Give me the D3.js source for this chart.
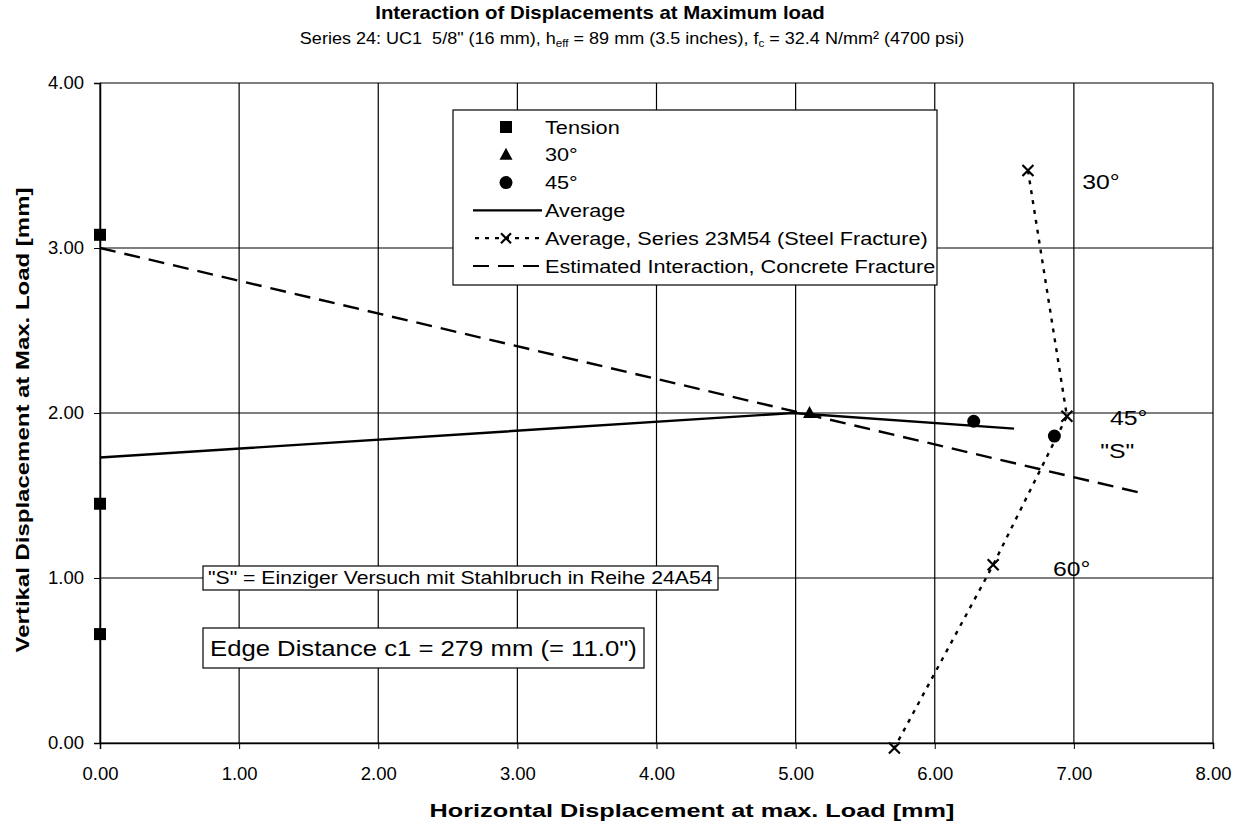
<!DOCTYPE html>
<html><head><meta charset="utf-8">
<script src="https://cdn.jsdelivr.net/npm/d3@7"></script>
<style>
body{margin:0;background:#fff}
svg{display:block}
text{font-family:"Liberation Sans",Arial,sans-serif;fill:#000}
</style>
</head><body>
<svg id="c" width="1249" height="834"></svg>
<script>
// ---- data ----
const xTicks = [0,1,2,3,4,5,6,7,8];
const yTicks = [0,1,2,3,4];
const tensionX = [0,0,0];
const tensionY = [3.08,1.45,0.66];
const deg30X = [5.1];
const deg30Y = [2.0];
const deg45X = [6.28,6.86];
const deg45Y = [1.95,1.86];
const avgX = [0,4.98,6.57];
const avgY = [1.73,2.0,1.905];
const steelX = [6.67,6.95,6.42,5.71];
const steelY = [3.47,1.98,1.08,-0.03];
const concreteX = [0,7.51];
const concreteY = [3.0,1.51];
const legendLabels = ["Tension","30°","45°","Average","Average, Series 23M54 (Steel Fracture)","Estimated Interaction, Concrete Fracture"];
const angleLabels = ["30°","45°","\"S\"","60°"];
const angleLabelX = [7.06,7.26,7.19,6.85];
const angleLabelY = [3.36,1.93,1.73,1.01];

const zip=(a,b)=>a.map((v,i)=>[v,b[i]]);

const svg = d3.select("#c");
const L=100, R=1213, T=83, B=743;
const x = d3.scaleLinear().domain([0,8]).range([L,R]);
const y = d3.scaleLinear().domain([0,4]).range([B,T]);

// text helper: place text and stretch horizontally to a target width
function fitText(parent, str, px, py, fs, opts){
  opts = opts||{};
  const g = parent.append("g");
  const t = g.append("text").attr("x",0).attr("y",0).attr("font-size",fs)
    .attr("text-anchor",opts.anchor||"start");
  if(opts.bold) t.attr("font-weight","bold");
  if(typeof str==="function") str(t); else t.text(str);
  const w = t.node().getComputedTextLength();
  const sx = opts.width ? opts.width/w : (opts.sx||1);
  g.attr("transform",`translate(${px},${py})${opts.rotate?` rotate(${opts.rotate})`:""} scale(${sx},1)`);
  return {g, w: w*sx};
}

// gridlines
svg.append("g").selectAll("line").data(xTicks).join("line")
  .attr("x1",d=>x(d)).attr("x2",d=>x(d)).attr("y1",T).attr("y2",B)
  .attr("stroke","#000").attr("stroke-width",1.2);
svg.append("g").selectAll("line").data(yTicks).join("line")
  .attr("x1",L).attr("x2",R).attr("y1",d=>y(d)).attr("y2",d=>y(d))
  .attr("stroke","#000").attr("stroke-width",1.2);

// axes
const xa = svg.append("g").attr("transform",`translate(0,${B})`)
  .call(d3.axisBottom(x).tickValues(xTicks).tickFormat(d3.format(".2f")).tickSize(6).tickPadding(18));
const ya = svg.append("g").attr("transform",`translate(${L},0)`)
  .call(d3.axisLeft(y).tickValues(yTicks).tickFormat(d3.format(".2f")).tickSize(6).tickPadding(10));
[xa,ya].forEach(a=>{
  a.select(".domain").attr("stroke","#000").attr("stroke-width",1.5);
  a.selectAll(".tick line").attr("stroke","#000");
  a.selectAll(".tick text").attr("font-size",18.5).attr("font-family","'Liberation Sans',Arial,sans-serif").attr("fill","#000");
});

// concrete dashed line
const line = d3.line().x(d=>x(d[0])).y(d=>y(d[1]));
svg.append("path").datum(zip(concreteX,concreteY)).attr("d",line)
  .attr("fill","none").attr("stroke","#000").attr("stroke-width",2.4).attr("stroke-dasharray","16,9");
// average solid
svg.append("path").datum(zip(avgX,avgY)).attr("d",line)
  .attr("fill","none").attr("stroke","#000").attr("stroke-width",2.4);
// steel dotted
svg.append("path").datum(zip(steelX,steelY)).attr("d",line)
  .attr("fill","none").attr("stroke","#000").attr("stroke-width",2.4).attr("stroke-dasharray","4,6");

function xMark(g,cx,cy,s){
  g.append("path").attr("d",`M${cx-s},${cy-s}L${cx+s},${cy+s}M${cx+s},${cy-s}L${cx-s},${cy+s}`)
   .attr("stroke","#000").attr("stroke-width",2.2).attr("fill","none");
}
const mk = svg.append("g");
zip(steelX,steelY).forEach(d=>xMark(mk,x(d[0]),y(d[1]),5.5));
mk.selectAll("rect.t").data(zip(tensionX,tensionY)).join("rect")
  .attr("x",d=>x(d[0])-6).attr("y",d=>y(d[1])-6).attr("width",12).attr("height",12).attr("fill","#000");
mk.selectAll("path.tri").data(zip(deg30X,deg30Y)).join("path")
  .attr("d",d=>`M${x(d[0])},${y(d[1])-7}L${x(d[0])+6.5},${y(d[1])+5}L${x(d[0])-6.5},${y(d[1])+5}Z`).attr("fill","#000");
mk.selectAll("circle").data(zip(deg45X,deg45Y)).join("circle")
  .attr("cx",d=>x(d[0])).attr("cy",d=>y(d[1])).attr("r",6.5).attr("fill","#000");

// angle labels
angleLabels.forEach((s,i)=>fitText(svg,s,x(angleLabelX[i]),y(angleLabelY[i]),21,{sx:1.18}));

// legend
const lg = svg.append("g");
const LX=453, LY=110, LW=484, LH=175;
lg.append("rect").attr("x",LX).attr("y",LY).attr("width",LW).attr("height",LH)
  .attr("fill","#fff").attr("stroke","#000").attr("stroke-width",1.2);
// common stretch from the longest legend entry
const probe = svg.append("text").attr("font-size",18.5).text(legendLabels[4]);
const legSx = 383/probe.node().getComputedTextLength();
probe.remove();
legendLabels.forEach((t,i)=>{
  const cy = LY+17+i*27.8;
  fitText(lg,t,LX+92,cy+6.5,18.5,{sx:legSx});
  const mx = LX+53;
  if(i===0) lg.append("rect").attr("x",mx-6).attr("y",cy-6).attr("width",12).attr("height",12);
  if(i===1) lg.append("path").attr("d",`M${mx},${cy-7}L${mx+6.5},${cy+5}L${mx-6.5},${cy+5}Z`);
  if(i===2) lg.append("circle").attr("cx",mx).attr("cy",cy).attr("r",6.5);
  if(i===3) lg.append("line").attr("x1",LX+20).attr("x2",LX+89).attr("y1",cy).attr("y2",cy).attr("stroke","#000").attr("stroke-width",2.2);
  if(i===4){ lg.append("line").attr("x1",LX+22).attr("x2",LX+89).attr("y1",cy).attr("y2",cy).attr("stroke","#000").attr("stroke-width",2.2).attr("stroke-dasharray","4,6"); xMark(lg,mx,cy,5);}
  if(i===5) lg.append("line").attr("x1",LX+20).attr("x2",LX+89).attr("y1",cy).attr("y2",cy).attr("stroke","#000").attr("stroke-width",2.2).attr("stroke-dasharray","16,9");
});

// annotation boxes
function box(txt,bx,by,fs,padX,h,tw){
  const g=svg.append("g");
  const r=g.append("rect").attr("fill","#fff").attr("stroke","#000").attr("stroke-width",1.2);
  const res=fitText(g,txt,bx+padX,by+h/2+fs*0.36,fs,{width:tw});
  r.attr("x",bx).attr("y",by).attr("width",res.w+2*padX).attr("height",h);
}
const sBoxY = y(1.0)-12;
box("\"S\" = Einziger Versuch mit Stahlbruch in Reihe 24A54",203,sBoxY,18,5,24,505);
box("Edge Distance c1 = 279 mm (= 11.0\")",203,628,22,7,40,427);

// titles
fitText(svg,"Interaction of Displacements at Maximum load",600,19,18,{bold:true,anchor:"middle",width:450});
fitText(svg,t=>{
  t.append("tspan").text("Series 24: UC1\u00a0\u00a05/8\" (16 mm), h");
  t.append("tspan").attr("font-size",11).attr("dy",3).text("eff");
  t.append("tspan").attr("dy",-3).text(" = 89 mm (3.5 inches), f");
  t.append("tspan").attr("font-size",11).attr("dy",3).text("c");
  t.append("tspan").attr("dy",-3).text(" = 32.4 N/mm² (4700 psi)");
},632,44,17,{anchor:"middle",width:665});

fitText(svg,"Horizontal Displacement at max. Load [mm]",692,817,19,{bold:true,anchor:"middle",width:525});
fitText(svg,"Vertikal Displacement at Max. Load [mm]",29,420,19,{bold:true,anchor:"middle",width:465,rotate:-90});
</script>
</body></html>
